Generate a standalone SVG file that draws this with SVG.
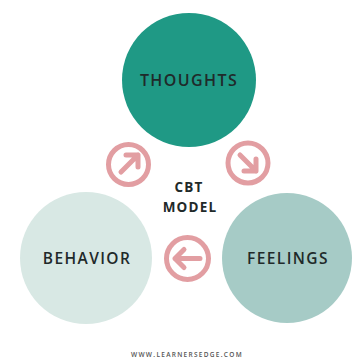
<svg xmlns="http://www.w3.org/2000/svg" width="353" height="358" viewBox="0 0 353 358">
<style>
.lbl{font-family:"Open Sans","Noto Sans",sans-serif;font-weight:600;fill:#1f2a2a;text-anchor:middle;dominant-baseline:central}
.ring{fill:none;stroke:#e29ea2;stroke-width:5}
.arr{fill:none;stroke:#e29ea2;stroke-width:5;stroke-linecap:round;stroke-linejoin:round}
</style>
<rect width="353" height="358" fill="#ffffff"/>
<g id="thoughts">
<circle cx="189" cy="80" r="67" fill="#1f9985"/>
<text class="lbl" x="189" y="80" font-size="16" letter-spacing="1.4">THOUGHTS</text>
</g>
<g id="behavior">
<circle cx="86" cy="258" r="66" fill="#d8e8e4"/>
<text class="lbl" x="87" y="258" font-size="15.5" letter-spacing="1.4">BEHAVIOR</text>
</g>
<g id="feelings">
<circle cx="287" cy="258" r="65" fill="#a6cbc6"/>
<text class="lbl" x="288" y="258" font-size="15.5" letter-spacing="1.4">FEELINGS</text>
</g>
<g id="center">
<text class="lbl" x="189" y="187" font-size="13.5" letter-spacing="1.2" style="font-weight:700">CBT</text>
<text class="lbl" x="190" y="207" font-size="13.5" letter-spacing="1.2" style="font-weight:700">MODEL</text>
</g>
<g id="connectors">
<g>
<circle class="ring" cx="128.5" cy="164.5" r="20"/>
<path class="arr" d="M121,172 L138,155 M126,155 L138,155 L138,167"/>
</g>
<g>
<circle class="ring" cx="248" cy="163" r="20"/>
<path class="arr" d="M240,155 L256,171 M244,171 L256,171 L256,159"/>
</g>
<g>
<circle class="ring" cx="187.5" cy="258.5" r="21"/>
<path class="arr" d="M200,258.5 L175,258.5 M184,249.5 L175,258.5 L184,267.5"/>
</g>
</g>
<text x="187" y="357" font-family="Open Sans, sans-serif" font-size="6.5" font-weight="600" fill="#555" text-anchor="middle" letter-spacing="1.3">WWW.LEARNERSEDGE.COM</text>
</svg>
